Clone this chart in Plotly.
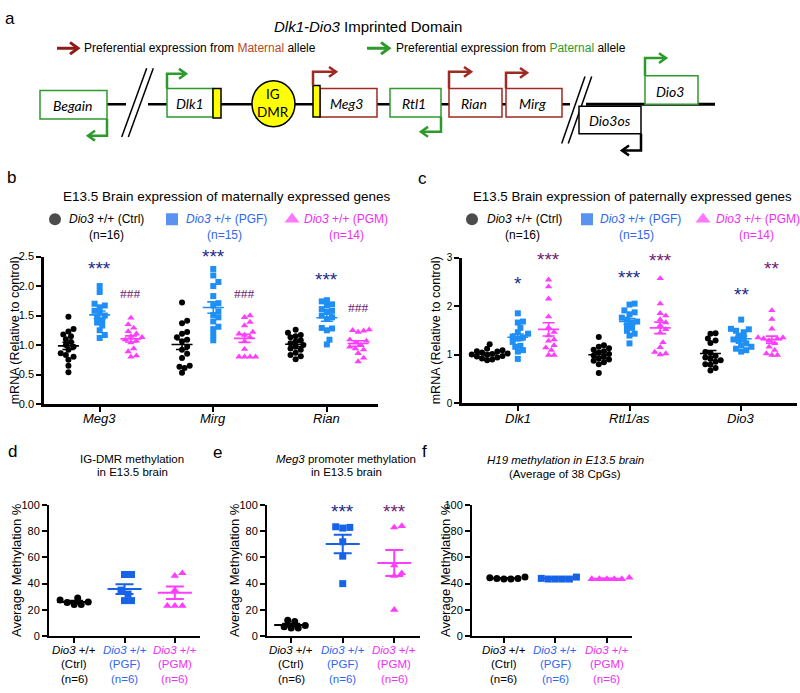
import numpy as np
import plotly.graph_objects as go

W, H = 800, 693
SANS = "Liberation Sans, Arial, Helvetica, sans-serif"
SERIF = "Liberation Serif, Times New Roman, serif"
HUM = "Lato, Open Sans, sans-serif"

# ------------------------------------------------------------------ data
group_names = ["Ctrl", "PGF", "PGM"]
group_n_expr = [16, 15, 14]
group_n_meth = [6, 6, 6]
maternal_genes = ["Meg3", "Mirg", "Rian"]
paternal_genes = ["Dlk1", "Rtl1/as", "Dio3"]

meg3_ctrl = [1.48, 1.27, 1.23, 1.18, 1.15, 1.10, 1.05, 1.00, 0.97, 0.92, 0.86, 0.83, 0.80, 0.75, 0.65, 0.54]
meg3_pgf = [2.00, 1.90, 1.70, 1.67, 1.64, 1.58, 1.55, 1.50, 1.47, 1.42, 1.38, 1.33, 1.25, 1.17, 1.12]
meg3_pgm = [1.46, 1.35, 1.29, 1.23, 1.19, 1.15, 1.13, 1.09, 1.07, 1.04, 0.94, 0.89, 0.82, 0.80]
mirg_ctrl = [1.72, 1.41, 1.37, 1.22, 1.19, 1.13, 1.09, 1.06, 0.97, 0.92, 0.85, 0.78, 0.65, 0.63, 0.61, 0.53]
mirg_pgf = [2.29, 2.18, 2.07, 2.00, 1.83, 1.71, 1.67, 1.57, 1.51, 1.47, 1.40, 1.31, 1.27, 1.17, 1.08]
mirg_pgm = [1.50, 1.47, 1.39, 1.33, 1.22, 1.19, 1.17, 1.13, 1.06, 0.93, 0.80, 0.80, 0.80, 0.80]
rian_ctrl = [1.26, 1.21, 1.17, 1.15, 1.13, 1.08, 1.06, 1.03, 1.00, 0.97, 0.94, 0.92, 0.87, 0.83, 0.81, 0.76]
rian_pgf = [1.76, 1.74, 1.69, 1.67, 1.61, 1.58, 1.56, 1.50, 1.47, 1.44, 1.29, 1.28, 1.25, 1.09, 1.01]
rian_pgm = [1.26, 1.25, 1.24, 1.22, 1.09, 1.07, 1.04, 1.00, 0.97, 0.94, 0.92, 0.86, 0.78, 0.72]

dlk1_ctrl = [1.21, 1.12, 1.09, 1.07, 1.06, 1.04, 1.02, 1.01, 1.00, 0.99, 0.97, 0.96, 0.94, 0.92, 0.90, 0.88]
dlk1_pgf = [1.85, 1.68, 1.66, 1.55, 1.46, 1.43, 1.37, 1.35, 1.33, 1.26, 1.18, 1.16, 1.09, 1.06, 0.91]
dlk1_pgm = [2.54, 2.40, 2.15, 1.78, 1.56, 1.46, 1.39, 1.31, 1.28, 1.19, 1.14, 1.09, 0.99, 0.99]
rtl1_ctrl = [1.36, 1.19, 1.16, 1.13, 1.10, 1.07, 1.04, 1.01, 0.98, 0.95, 0.92, 0.90, 0.87, 0.84, 0.80, 0.62]
rtl1_pgf = [2.05, 2.03, 1.91, 1.87, 1.83, 1.76, 1.72, 1.68, 1.66, 1.60, 1.55, 1.49, 1.43, 1.39, 1.23]
rtl1_pgm = [2.57, 2.05, 1.85, 1.80, 1.72, 1.66, 1.60, 1.52, 1.45, 1.25, 1.15, 1.05, 1.02, 1.00]
dio3_ctrl = [1.44, 1.43, 1.33, 1.29, 1.24, 1.05, 1.03, 0.97, 0.94, 0.91, 0.88, 0.85, 0.80, 0.79, 0.72, 0.67]
dio3_pgf = [1.72, 1.53, 1.52, 1.49, 1.46, 1.39, 1.35, 1.31, 1.28, 1.23, 1.19, 1.16, 1.12, 1.09, 1.06]
dio3_pgm = [1.91, 1.73, 1.53, 1.35, 1.35, 1.33, 1.33, 1.29, 1.23, 1.16, 1.09, 1.02, 0.99, 0.99]

igdmr_ctrl = [27.5, 26.0, 24.0, 24.0, 25.5, 29.0]
igdmr_pgf = [47.0, 47.0, 35.0, 32.0, 27.0, 27.0]
igdmr_pgm = [48.0, 46.0, 35.0, 23.0, 23.0, 23.0]
meg3p_ctrl = [11.0, 12.0, 8.0, 6.0, 6.0, 7.0]
meg3p_pgf = [83.0, 82.5, 83.5, 72.0, 61.0, 40.0]
meg3p_pgm = [84.0, 83.0, 54.0, 48.0, 46.0, 20.0]
h19_ctrl = [45.0, 44.0, 43.5, 43.5, 44.0, 44.5]
h19_pgf = [43.5, 43.5, 43.5, 43.5, 44.0, 45.0]
h19_pgm = [43.5, 43.5, 43.5, 43.5, 43.5, 44.5]

maternal_sig_pgf = ["***", "***", "***"]
maternal_sig_pgm = ["###", "###", "###"]
paternal_sig_pgf = ["*", "***", "**"]
paternal_sig_pgm = ["***", "***", "**"]
meg3p_sig = ["", "***", "***"]

# ------------------------------------------------------------------ styles / layout
BLACK = "#000000"
BLUE_PT = "#1f8ff5"
BLUE_D = "#1663e8"
BLUE_TXT = "#2f66f2"
MAG = "#ff3dff"
MAG_TXT = "#f22ef2"
NAVY = "#1d2a8a"
PURPLE = "#6f2270"
RED = "#9e2a22"
RED_TXT = "#b8481e"
GREEN = "#2c9a2c"
YELLOW = "#ffff00"

# pixel geometry of each panel: x0/x1 left/right, y0 bottom, y1 top
panels = {
    "b": dict(x0=44, x1=378, xr=(-0.49, 2.45), y0=405, y1=255, yr=(0, 2.5)),
    "c": dict(x0=462, x1=797, xr=(-0.5, 2.5), y0=404, y1=256, yr=(0, 3)),
    "d": dict(x0=49, x1=200, xr=(-0.5, 2.5), y0=641, y1=508, yr=(0, 100)),
    "e": dict(x0=267, x1=420, xr=(-0.47, 2.5), y0=641, y1=508, yr=(0, 100)),
    "f": dict(x0=472, x1=632, xr=(-0.62, 2.49), y0=641, y1=508, yr=(0, 100)),
}
axis_num = {"b": 2, "c": 3, "d": 4, "e": 5, "f": 6}


def xpu(p):
    g = panels[p]
    return (g["x1"] - g["x0"]) / (g["xr"][1] - g["xr"][0])


def ypu(p):
    g = panels[p]
    return (g["y0"] - g["y1"]) / (g["yr"][1] - g["yr"][0])


def px_x(p, v):
    g = panels[p]
    return g["x0"] + (v - g["xr"][0]) * xpu(p)


def px_y(p, v):
    g = panels[p]
    return g["y0"] - (v - g["yr"][0]) * ypu(p)


def swarm(vals, p, d, overlap=1.0):
    """simple beeswarm offsets (in axis units)"""
    vals = np.asarray(vals, float)
    order = np.argsort(vals, kind="stable")
    placed = []
    offs = np.zeros(len(vals))
    dm = d * overlap
    cands = [0.0]
    for j in range(1, 30):
        cands += [j * dm * 0.5, -j * dm * 0.5]
    for i in order:
        y = vals[i] * ypu(p)
        for c in cands:
            if all((c - px) ** 2 + (y - py) ** 2 >= (dm * 0.98) ** 2 for px, py in placed):
                break
        placed.append((c, y))
        offs[i] = c
    return offs / xpu(p)


fig = go.Figure()
shapes = []
anns = []


def add_group(p, center, vals, symbol, size, color, lcolor, hw_px, cap_px, lw, overlap):
    k = axis_num[p]
    offs = swarm(vals, p, size + 0.4, overlap)
    fig.add_trace(go.Scatter(
        x=center + offs, y=vals, mode="markers", xaxis=f"x{k}", yaxis=f"y{k}",
        marker=dict(symbol=symbol, size=size, color=color, line=dict(width=0)),
        cliponaxis=False, showlegend=False, hoverinfo="skip"))
    m = float(np.mean(vals))
    s = float(np.std(vals, ddof=1) / np.sqrt(len(vals)))
    hw = hw_px / xpu(p)
    fig.add_trace(go.Scatter(
        x=[center - hw, center + hw], y=[m, m], mode="lines", xaxis=f"x{k}", yaxis=f"y{k}",
        line=dict(color=lcolor, width=lw), showlegend=False, hoverinfo="skip", cliponaxis=False))
    fig.add_trace(go.Scatter(
        x=[center], y=[m], mode="markers", xaxis=f"x{k}", yaxis=f"y{k}",
        marker=dict(size=1, color="rgba(0,0,0,0)"),
        error_y=dict(type="data", array=[s], symmetric=True, color=lcolor, thickness=lw, width=cap_px),
        showlegend=False, hoverinfo="skip", cliponaxis=False))


def text(x, y, t, size=12, color=BLACK, xa="center", ya="middle", angle=0, family=SANS):
    anns.append(dict(x=x, y=y, xref="x", yref="y", text=t, showarrow=False,
                     font=dict(size=size, color=color, family=family),
                     xanchor=xa, yanchor=ya, textangle=angle, borderpad=0))


def stat(p, xval, yval, t, color):
    if not t:
        return
    if t.startswith("#"):
        text(px_x(p, xval), px_y(p, yval), t, size=13.5, color=color, family=SERIF)
    else:
        text(px_x(p, xval), px_y(p, yval) + 4, t, size=19, color=color)


# ------------------------------------------------------------------ expression panels
expr_markers = [("circle", 6, BLACK, BLACK), ("square", 6, BLUE_PT, BLUE_PT), ("triangle-up", 6.5, MAG, MAG)]
group_offset = [-0.275, 0.0, 0.275]

maternal_data = [[meg3_ctrl, meg3_pgf, meg3_pgm], [mirg_ctrl, mirg_pgf, mirg_pgm], [rian_ctrl, rian_pgf, rian_pgm]]
paternal_data = [[dlk1_ctrl, dlk1_pgf, dlk1_pgm], [rtl1_ctrl, rtl1_pgf, rtl1_pgm], [dio3_ctrl, dio3_pgf, dio3_pgm]]

for p, dataset in (("b", maternal_data), ("c", paternal_data)):
    for gi, gene_vals in enumerate(dataset):
        for j, vals in enumerate(gene_vals):
            sym, sz, col, lcol = expr_markers[j]
            add_group(p, gi + group_offset[j], vals, sym, sz, col, lcol, 10.5, 6, 1.6, 0.8)

mat_sig_y_pgf = [2.37, 2.57, 2.17]
mat_sig_y_pgm = [1.87, 1.87, 1.63]
pat_sig_y_pgf = [2.55, 2.67, 2.32]
pat_sig_y_pgm = [3.05, 3.03, 2.85]
for gi in range(3):
    stat("b", gi + group_offset[1], mat_sig_y_pgf[gi], maternal_sig_pgf[gi], NAVY)
    stat("b", gi + group_offset[2], mat_sig_y_pgm[gi], maternal_sig_pgm[gi], PURPLE)
    stat("c", gi + group_offset[1], pat_sig_y_pgf[gi], paternal_sig_pgf[gi], NAVY)
    stat("c", gi + group_offset[2], pat_sig_y_pgm[gi], paternal_sig_pgm[gi], PURPLE)

# ------------------------------------------------------------------ methylation panels
meth_markers = [("circle", 7, BLACK, BLACK), ("square", 7, BLUE_D, BLUE_D), ("triangle-up", 7.5, MAG, MAG)]
meth_data = {"d": [igdmr_ctrl, igdmr_pgf, igdmr_pgm],
             "e": [meg3p_ctrl, meg3p_pgf, meg3p_pgm],
             "f": [h19_ctrl, h19_pgf, h19_pgm]}
for p, groups in meth_data.items():
    for j, vals in enumerate(groups):
        sym, sz, col, lcol = meth_markers[j]
        add_group(p, j, vals, sym, sz, col, lcol, 17, 9, 2, 0.95)
for j in range(3):
    if meg3p_sig[j]:
        stat("e", j, 98.5, meg3p_sig[j], NAVY if j == 1 else PURPLE)

# ------------------------------------------------------------------ axes
layout_axes = {}
layout_axes["xaxis"] = dict(domain=[0, 1], range=[0, W], visible=False, fixedrange=True, anchor="y")
layout_axes["yaxis"] = dict(domain=[0, 1], range=[H, 0], visible=False, fixedrange=True, anchor="x")

grp_colors = [BLACK, BLUE_TXT, MAG_TXT]

for p, k in axis_num.items():
    g = panels[p]
    expr = p in ("b", "c")
    lw = 2.5 if expr else 2
    layout_axes[f"xaxis{k}"] = dict(
        domain=[g["x0"] / W, g["x1"] / W], range=list(g["xr"]), anchor=f"y{k}",
        showline=True, linecolor=BLACK, linewidth=lw, ticks="outside", ticklen=5,
        tickwidth=2, tickcolor=BLACK, tickvals=[0, 1, 2], showticklabels=False,
        showgrid=False, zeroline=False, fixedrange=True)
    if p == "b":
        yt = dict(tickvals=[0, 0.5, 1.0, 1.5, 2.0, 2.5], tickformat=".1f", tickfont=dict(size=11, family=SANS, color=BLACK))
    elif p == "c":
        yt = dict(tickvals=[0, 1, 2, 3], tickfont=dict(size=10, family=SANS, color=BLACK))
    else:
        yt = dict(tickvals=[0, 20, 40, 60, 80, 100], tickfont=dict(size=11, family=SANS, color=BLACK))
    layout_axes[f"yaxis{k}"] = dict(
        domain=[(H - g["y0"]) / H, (H - g["y1"]) / H], range=list(g["yr"]), anchor=f"x{k}",
        showline=True, linecolor=BLACK, linewidth=lw, ticks="outside", ticklen=5,
        tickwidth=2, tickcolor=BLACK, showgrid=False, zeroline=False, fixedrange=True, **yt)

# category labels
for p, genes in (("b", maternal_genes), ("c", paternal_genes)):
    for gi, gname in enumerate(genes):
        text(px_x(p, gi), 420, f"<i>{gname}</i>", 13)
for p in ("d", "e", "f"):
    for j in range(3):
        cx = px_x(p, j)
        c = grp_colors[j]
        text(cx, 655, "<i>Dio3</i> +/+", 11.5, c)
        text(cx, 670, f"({group_names[j]})", 11.5, c)
        text(cx, 685, f"(n={group_n_meth[j]})", 11.5, c)

# ------------------------------------------------------------------ texts for b-f
text(11, 175, "b", 17)
text(422, 176, "c", 17)
text(12, 453, "d", 17)
text(217, 454, "e", 17)
text(424, 453, "f", 17)

text(226, 194, "E13.5 Brain expression of maternally expressed genes", 13.5)
text(632, 194, "E13.5 Brain expression of paternally expressed genes", 13.3)

leg_sym = ["circle", "square", "triangle-up"]
leg_col = [BLACK, BLUE_D, MAG]
leg_pos = {"b": [(55, 68, 106), (172, 185, 224), (292, 303, 346)],
           "c": [(472, 486, 522), (587, 599, 636), (703, 715, 756)]}
for p, pos in leg_pos.items():
    fig.add_trace(go.Scatter(
        x=[q[0] for q in pos], y=[217, 217, 217], mode="markers", xaxis="x", yaxis="y",
        marker=dict(symbol=leg_sym, size=[12, 12, 13], color=leg_col, line=dict(width=0)),
        showlegend=False, hoverinfo="skip", cliponaxis=False))
    for j, (mx, tx, nx) in enumerate(pos):
        text(tx, 217, f"<i>Dio3</i> +/+ ({group_names[j]})", 12, grp_colors[j], xa="left")
        text(nx, 233, f"(n={group_n_expr[j]})", 12, grp_colors[j])

text(15, 330, "mRNA (Relative to control)", 12.5, angle=-90)
text(436, 330, "mRNA (Relative to control)", 12.5, angle=-90)
text(16, 574, "Average Methylation %", 13, angle=-90)
text(234, 574, "Average Methylation %", 13, angle=-90)
text(445, 574, "Average Methylation %", 13, angle=-90)

text(132, 461, "IG-DMR methylation", 11.5)
text(132, 474, "in E13.5 brain", 11.5)
text(346, 461, "<i>Meg3</i> promoter methylation", 11.5)
text(346, 474, "in E13.5 brain", 11.5)
text(565, 462, "<i>H19 methylation in E13.5 brain</i>", 11.5)
text(565, 476, "(Average of 38 CpGs)", 11.5)

# ------------------------------------------------------------------ panel a diagram
text(10, 13, "a", 17)
text(368, 21, "<i>Dlk1-Dio3</i> Imprinted Domain", 15)
text(83, 43, f"Preferential expression from <span style='color:{RED_TXT}'>Maternal</span> allele", 12, xa="left")
text(395, 43, f"Preferential expression from <span style='color:{GREEN}'>Paternal</span> allele", 12, xa="left")


def seg(x0, y0, x1, y1, color=BLACK, w=2.5):
    shapes.append(dict(type="line", xref="x", yref="y", x0=x0, y0=y0, x1=x1, y1=y1,
                       line=dict(color=color, width=w)))


def rect(x0, y0, x1, y1, color, fill="white", w=1.5):
    shapes.append(dict(type="rect", xref="x", yref="y", x0=x0, y0=y0, x1=x1, y1=y1,
                       line=dict(color=color, width=w), fillcolor=fill))


def arrow(pts, color, w=2.5, hl=7, hh=5):
    path = "M " + " L ".join(f"{x},{y}" for x, y in pts)
    shapes.append(dict(type="path", xref="x", yref="y", path=path, line=dict(color=color, width=w)))
    (ax, ay), (tx, ty) = pts[-2], pts[-1]
    d = np.array([tx - ax, ty - ay], float)
    d /= np.linalg.norm(d)
    n = np.array([-d[1], d[0]])
    b = np.array([tx, ty]) - hl * d
    p1 = b + hh * n
    p2 = b - hh * n
    shapes.append(dict(type="path", xref="x", yref="y",
                       path=f"M {p1[0]},{p1[1]} L {tx},{ty} L {p2[0]},{p2[1]}",
                       line=dict(color=color, width=w)))


arrow([(57, 43), (78, 43)], "#8e1b16", w=3, hl=8, hh=6)
arrow([(367, 43), (389, 43)], GREEN, w=3, hl=8, hh=6)

# chromosome
seg(107, 100, 126, 100, w=2.5)
seg(148, 100, 570, 100, w=2.5)
seg(586, 100, 715, 100, w=3)
# break marks
seg(121.7, 133.3, 146.7, 63.3, w=1.5)
seg(128.3, 133.3, 153.3, 63.3, w=1.5)
seg(561.7, 140, 585, 71.7, w=1.5)
seg(568.3, 140, 591.7, 71.7, w=1.5)

# gene boxes
rect(40, 86, 107, 115, GREEN)
rect(167, 84, 213, 113, GREEN)
rect(320, 84, 377, 113, RED)
rect(390, 84, 441, 113, GREEN)
rect(449, 84, 502, 113, RED)
rect(506, 84, 562, 113, RED)
rect(579, 102, 641, 130, BLACK)
rect(645, 71, 698, 100, GREEN)
# DMR elements
rect(213, 84, 221, 114, BLACK, fill=YELLOW)
rect(313, 81, 320, 113, BLACK, fill=YELLOW)
shapes.append(dict(type="circle", xref="x", yref="y", x0=252, y0=76, x1=295, y1=123,
                   line=dict(color=BLACK, width=1.5), fillcolor=YELLOW))

# transcription arrows
arrow([(107, 115), (107, 132), (88, 132)], GREEN)
arrow([(167, 84), (167, 69), (186, 69)], GREEN)
arrow([(313, 81), (313, 67), (336, 67)], RED)
arrow([(441, 113), (441, 128), (421, 128)], GREEN)
arrow([(449, 84), (449, 67), (471, 67)], RED)
arrow([(506, 84), (506, 68), (527, 68)], RED)
arrow([(641, 130), (641, 147), (622, 147)], BLACK)
arrow([(645, 71), (645, 53), (666, 53)], GREEN)

# gene labels
for gx, gy, gname in [(72, 101, "Begain"), (190, 99, "Dlk1"), (346, 99, "Meg3"), (414, 99, "Rtl1"),
                      (474, 99, "Rian"), (532, 99, "Mirg"), (610, 117, "Dio3os"), (670, 87, "Dio3")]:
    text(gx, gy, f"<i>{gname}</i>", 14, family=HUM)
text(273, 90, "IG", 13.5, family=HUM)
text(273, 108, "DMR", 13.5, family=HUM)

fig.update_layout(
    width=W, height=H, autosize=False,
    margin=dict(l=0, r=0, t=0, b=0),
    paper_bgcolor="white", plot_bgcolor="rgba(0,0,0,0)",
    showlegend=False, shapes=shapes, annotations=anns,
    font=dict(family=SANS, color=BLACK),
    **layout_axes,
)
fig.write_html(
    "out.html",
    config={"displayModeBar": False},
    post_script="document.body.style.margin='0';document.body.style.overflow='hidden';",
)
